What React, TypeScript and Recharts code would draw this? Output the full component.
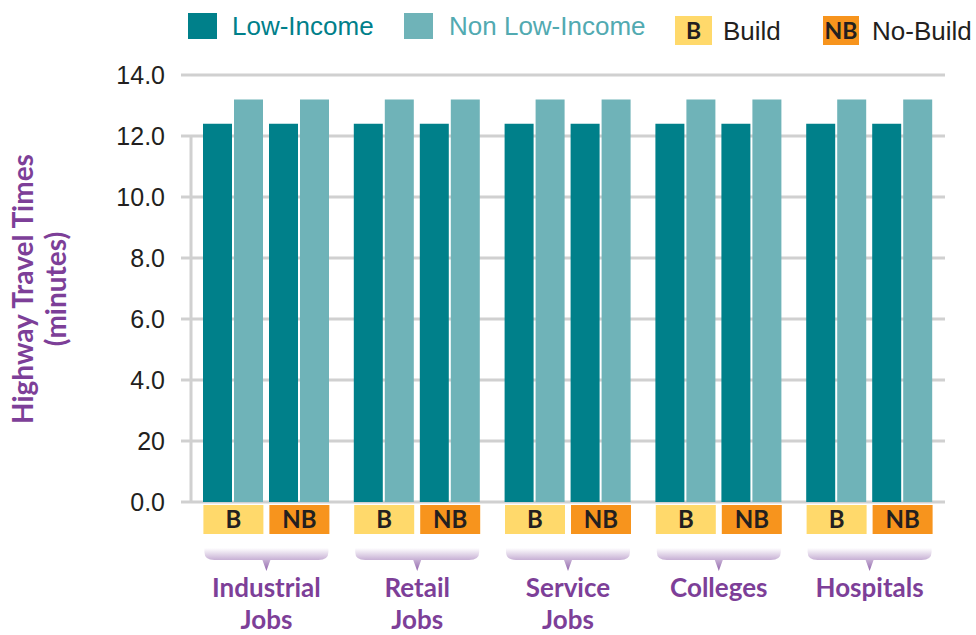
import React from 'react';
import { BarChart, Bar, XAxis, YAxis, CartesianGrid, ReferenceLine } from 'recharts';

const groups = ['Industrial Jobs', 'Retail Jobs', 'Service Jobs', 'Colleges', 'Hospitals'];
const lowIncomeBuild = [12.4, 12.4, 12.4, 12.4, 12.4];
const nonLowIncomeBuild = [13.2, 13.2, 13.2, 13.2, 13.2];
const lowIncomeNoBuild = [12.4, 12.4, 12.4, 12.4, 12.4];
const nonLowIncomeNoBuild = [13.2, 13.2, 13.2, 13.2, 13.2];
const yTicks = [0, 2, 4, 6, 8, 10, 12, 14];
const yTickLabels = ['0.0', '20', '4.0', '6.0', '8.0', '10.0', '12.0', '14.0'];
const scenarioCodes = ['B', 'NB'];
const seriesNames = ['Low-Income', 'Non Low-Income'];
const scenarioNames = ['Build', 'No-Build'];
const yTitle = ['Highway Travel Times', '(minutes)'];

const LOW = '#00808a';
const NONLOW = '#6fb3b8';
const NONLOW_TEXT = '#52aab1';
const YELLOW = '#ffd96b';
const ORANGE = '#f7941d';
const PURPLE = '#7d3f98';
const GRID = '#d0d0d0';
const DARK = '#231f20';

const data = groups.map((g, i) => ({
  group: g,
  lowB: lowIncomeBuild[i],
  nonLowB: nonLowIncomeBuild[i],
  lowNB: lowIncomeNoBuild[i],
  nonLowNB: nonLowIncomeNoBuild[i],
}));

const GroupTick = (props: any) => {
  const { x, y, payload, index } = props;
  const words = String(payload.value).split(' ');
  const gid = `brace-grad-${index}`;
  const x0 = x - 62;
  const x1 = x + 62;
  return (
    <g>
      <defs>
        <linearGradient id={gid} x1="0" y1="0" x2="0" y2="1">
          <stop offset="0%" stopColor="#ffffff" />
          <stop offset="50%" stopColor="#c9b3d6" />
          <stop offset="100%" stopColor="#9064ab" />
        </linearGradient>
      </defs>
      <rect x={x - 63} y={y + 3} width={60} height={29} fill={YELLOW} />
      <text x={x - 33} y={y + 26} textAnchor="middle" fontFamily="Lato" fontWeight={700} fontSize={24} fill={DARK}>
        {scenarioCodes[0]}
      </text>
      <rect x={x + 3} y={y + 3} width={60} height={29} fill={ORANGE} />
      <text x={x + 33} y={y + 26} textAnchor="middle" fontFamily="Lato" fontWeight={700} fontSize={24} fill={DARK}>
        {scenarioCodes[1]}
      </text>
      <path
        d={`M ${x0} ${y + 46} L ${x1} ${y + 46} L ${x1} ${y + 50} Q ${x1} ${y + 58} ${x1 - 10} ${y + 58} L ${x + 4} ${y + 58} L ${x} ${y + 69} L ${x - 4} ${y + 58} L ${x0 + 10} ${y + 58} Q ${x0} ${y + 58} ${x0} ${y + 50} Z`}
        fill={`url(#${gid})`}
      />
      {words.map((w, i) => (
        <text key={i} x={x} y={y + 95 + i * 31.5} textAnchor="middle" fontFamily="Lato" fontWeight={700} fontSize={26} fill={PURPLE}>
          {w}
        </text>
      ))}
    </g>
  );
};

const YTitle = () => (
  <g>
    <text transform="translate(33,289) rotate(-90)" textAnchor="middle" fontFamily="Lato" fontWeight={700} fontSize={28} fill={PURPLE}>
      {yTitle[0]}
    </text>
    <text transform="translate(66,289) rotate(-90)" textAnchor="middle" fontFamily="Lato" fontWeight={700} fontSize={28} fill={PURPLE}>
      {yTitle[1]}
    </text>
  </g>
);

const Legend = () => (
  <svg width={976} height={60} style={{ position: 'absolute', left: 0, top: 0 }}>
    <rect x={188} y={13} width={29} height={26} fill={LOW} />
    <text x={232} y={35} fontFamily="Liberation Sans, Arial" fontSize={26} fill={LOW}>{seriesNames[0]}</text>
    <rect x={404} y={13} width={29} height={26} fill={NONLOW} />
    <text x={449} y={35} fontFamily="Liberation Sans, Arial" fontSize={26} fill={NONLOW_TEXT}>{seriesNames[1]}</text>
    <rect x={675} y={16} width={37} height={29} fill={YELLOW} />
    <text x={693.5} y={39} textAnchor="middle" fontFamily="Lato" fontWeight={700} fontSize={23} fill={DARK}>{scenarioCodes[0]}</text>
    <text x={723} y={40} fontFamily="Liberation Sans, Arial" fontSize={26} fill={DARK}>{scenarioNames[0]}</text>
    <rect x={823} y={16} width={36} height={29} fill={ORANGE} />
    <text x={841} y={39} textAnchor="middle" fontFamily="Lato" fontWeight={700} fontSize={23} fill={DARK}>{scenarioCodes[1]}</text>
    <text x={872} y={40} fontFamily="Liberation Sans, Arial" fontSize={26} fill={DARK}>{scenarioNames[1]}</text>
  </svg>
);

export default function App() {
  return (
    <div style={{ position: 'absolute', left: 0, top: 0, width: 976, height: 635, background: '#fff' }}>
      <BarChart
        width={976}
        height={635}
        data={data}
        margin={{ top: 75, right: 31, left: 0, bottom: 0 }}
        barGap={2}
      >
        <CartesianGrid vertical={false} stroke={GRID} strokeWidth={3} />
        <XAxis
          dataKey="group"
          axisLine={false}
          tickLine={false}
          tickSize={0}
          tickMargin={0}
          height={133}
          interval={0}
          tick={<GroupTick />}
        />
        <YAxis
          width={191}
          domain={[0, 14]}
          ticks={yTicks}
          interval={0}
          axisLine={false}
          tickLine={{ stroke: GRID, strokeWidth: 3 }}
          tickSize={10}
          tickMargin={16}
          tick={{ fill: DARK, fontSize: 25, fontFamily: 'Liberation Sans, Arial' }}
          tickFormatter={(v: number) => yTickLabels[yTicks.indexOf(v)]}
          label={{ content: () => <YTitle /> }}
        />
        <ReferenceLine
          segment={[{ x: groups[0], y: 0 }, { x: groups[0], y: 12 }]}
          position="start"
          stroke={GRID}
          strokeWidth={3}
          ifOverflow="visible"
        />
        <Bar dataKey="lowB" fill={LOW} barSize={29} isAnimationActive={false} />
        <Bar dataKey="nonLowB" fill={NONLOW} barSize={29} isAnimationActive={false} />
        <Bar dataKey="gap" fill="none" barSize={2} isAnimationActive={false} legendType="none" />
        <Bar dataKey="lowNB" fill={LOW} barSize={29} isAnimationActive={false} />
        <Bar dataKey="nonLowNB" fill={NONLOW} barSize={29} isAnimationActive={false} />
      </BarChart>
      <Legend />
    </div>
  );
}
